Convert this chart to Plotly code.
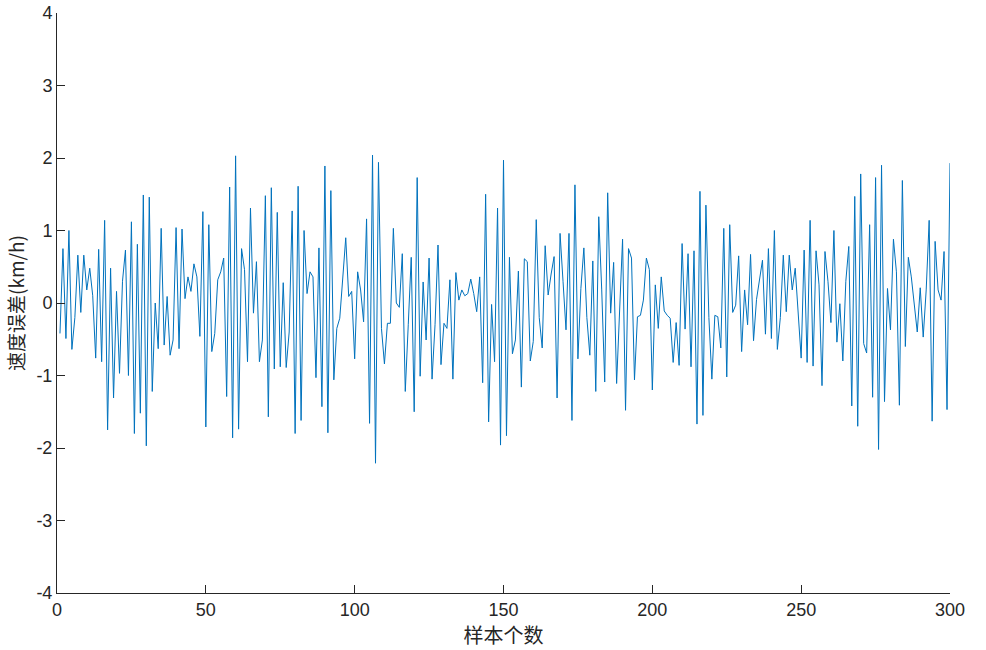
import plotly.graph_objects as go

# sample index and speed error (km/h)
sample_idx = list(range(1, 301))
speed_err = [
    -0.42, 0.75, -0.49, 1.00, -0.64, -0.20, 0.66, -0.13, 0.66, 0.18,
    0.48, 0.10, -0.76, 0.74, -0.81, 1.14, -1.75, 0.48, -1.31, 0.16,
    -0.97, 0.30, 0.73, -1.00, 1.12, -1.80, 0.81, -1.52, 1.49, -1.97,
    1.46, -1.22, 0.00, -0.63, 1.03, -0.58, 0.09, -0.72, -0.51, 1.04,
    -0.63, 1.02, 0.06, 0.36, 0.16, 0.54, 0.36, -0.46, 1.26, -1.71,
    1.08, -0.67, -0.42, 0.32, 0.43, 0.62, -1.29, 1.60, -1.86, 2.03,
    -1.74, 0.75, 0.46, -0.81, 1.31, -0.14, 0.57, -0.81, -0.51, 1.48,
    -1.57, 1.59, -0.91, 1.25, -0.88, 0.28, -0.89, -0.40, 1.27, -1.80,
    1.61, -1.62, 1.00, 0.13, 0.43, 0.36, -1.03, 0.76, -1.43, 1.89,
    -1.79, 1.55, -1.06, -0.35, -0.21, 0.30, 0.90, 0.09, 0.16, -0.77,
    0.43, 0.18, -0.26, 1.16, -1.66, 2.04, -2.21, 1.94, -0.35, -0.84,
    -0.28, -0.28, 1.03, 0.00, -0.06, 0.68, -1.22, -0.30, 0.63, -1.50,
    1.73, -1.01, 0.29, -0.51, 0.62, -1.05, -0.30, 0.80, -0.85, -0.28,
    -0.35, 0.32, -1.05, 0.42, 0.04, 0.18, 0.10, 0.13, 0.33, 0.13,
    -0.12, 0.36, -1.10, 1.50, -1.64, -0.02, -0.81, 1.31, -1.96, 1.97,
    -1.83, 0.63, -0.70, -0.51, 0.44, -1.16, 0.61, 0.57, -0.80, -0.53,
    1.15, -0.20, -0.62, 0.79, 0.11, 0.40, 0.64, -1.31, 0.96, 0.30,
    -0.37, 0.96, -1.62, 1.63, -0.77, 0.20, 0.76, -0.20, -0.72, 0.58,
    -1.22, 1.19, 0.18, -1.09, 1.52, -0.14, 0.56, -1.11, -0.05, 0.88,
    -1.48, 0.75, 0.62, -1.06, -0.19, -0.17, 0.04, 0.62, 0.46, -1.20,
    0.25, -0.35, 0.36, -0.11, -0.17, -0.21, -0.82, -0.27, -0.86, 0.82,
    -0.36, 0.68, -0.88, 0.72, -1.67, 1.54, -1.55, 1.35, -0.20, -1.05,
    -0.17, -0.19, -0.62, 1.03, -1.02, 1.08, -0.13, -0.03, 0.65, -0.67,
    0.18, -0.30, 0.67, -0.52, 0.05, 0.35, 0.59, -0.43, 0.75, -0.49,
    1.00, -0.64, -0.20, 0.66, -0.12, 0.66, 0.18, 0.48, -0.10, -0.76,
    0.73, -0.82, 1.14, -0.87, 0.72, 0.25, -1.14, 0.71, 0.30, -0.27,
    1.00, -0.54, -0.01, -0.80, 0.30, 0.78, -1.42, 1.47, -1.70, 1.78,
    -0.56, -0.69, 1.08, -1.30, 1.73, -2.02, 1.90, -1.36, 0.20, -0.37,
    0.88, 0.43, -1.41, 1.69, -0.60, 0.63, 0.36, 0.00, -0.40, 0.21,
    -0.47, 0.18, 1.14, -1.63, 0.85, 0.18, 0.04, 0.71, -1.47, 1.93,
]

x_ticks = [0, 50, 100, 150, 200, 250, 300]
y_ticks = [-4, -3, -2, -1, 0, 1, 2, 3, 4]
y_tick_text = ["-4", "-3", "-2", "-1", "0", "1", "2", "3", "4"]

AXIS_COLOR = "#262626"
LINE_COLOR = "#0072BD"

fig = go.Figure(go.Scatter(
    x=sample_idx, y=speed_err, mode="lines",
    line=dict(color=LINE_COLOR, width=1),
))

fig.update_layout(
    width=986, height=650,
    margin=dict(l=57, r=36, t=13, b=57),
    plot_bgcolor="white", paper_bgcolor="white",
    showlegend=False,
    font=dict(family="Liberation Sans, Arial", size=18, color=AXIS_COLOR),
)

fig.update_xaxes(
    range=[0, 300], tickvals=x_ticks, automargin=False,
    ticks="inside", ticklen=8, tickcolor=AXIS_COLOR,
    showline=True, linecolor=AXIS_COLOR, linewidth=1,
    showgrid=False, zeroline=False,
    title=dict(text="样本个数", standoff=0,
               font=dict(family="Noto Sans CJK SC", size=20, color=AXIS_COLOR)),
)
fig.update_yaxes(
    range=[-4, 4], tickvals=y_ticks, ticktext=y_tick_text, automargin=False,
    ticks="inside", ticklen=8, tickcolor=AXIS_COLOR,
    showline=True, linecolor=AXIS_COLOR, linewidth=1,
    showgrid=False, zeroline=False,
    title=dict(text="速度误差(km/h)", standoff=6,
               font=dict(family="Noto Sans CJK SC", size=19, color=AXIS_COLOR)),
)

# drop the default 8px body margin so the figure sits at the window corner
fig.write_html("out.html", config={"displayModeBar": False},
               post_script="document.body.style.margin='0';")
